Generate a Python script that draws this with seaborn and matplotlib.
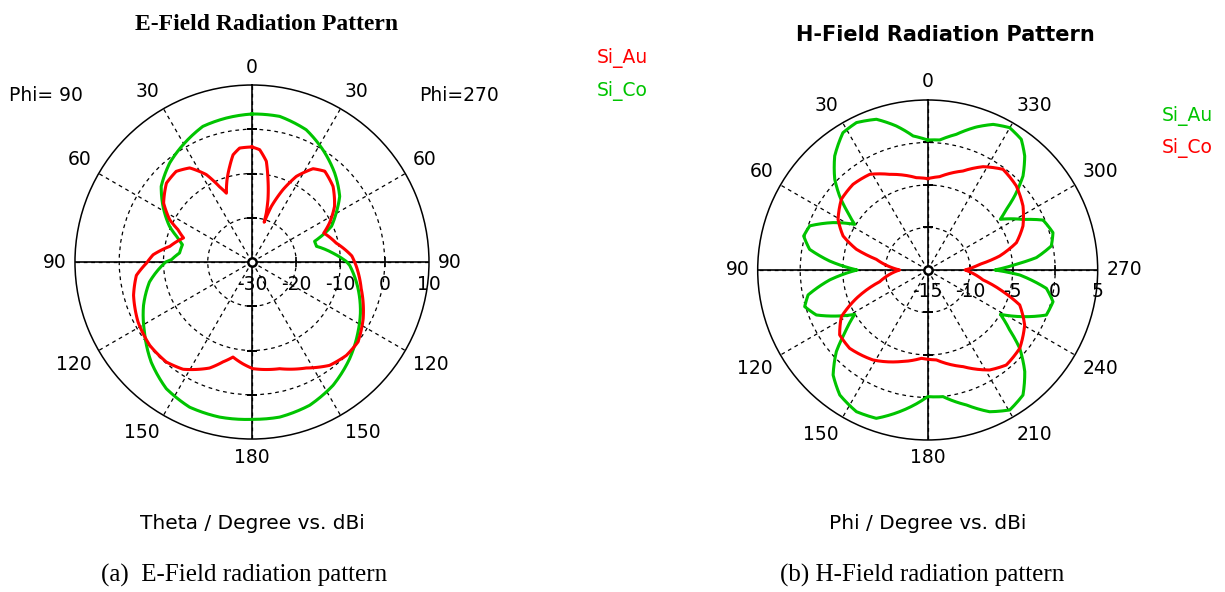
import numpy as np
import matplotlib
matplotlib.use("Agg")
import matplotlib.pyplot as plt
from matplotlib.transforms import offset_copy
import seaborn as sns

# ---- E-plane cut: theta in degrees, measured clockwise from boresight
# (right half = Phi=270 cut, left half = Phi=90 cut, stored as 180..360)
e_au_theta = [0, 3.9, 8.1, 11, 14.4, 16.3, 17, 19.2, 23.2, 27.4, 33.2, 38.7, 47,
              56, 63.3, 68, 77.3, 86.5, 92.4, 103.7, 117, 127, 134.7, 143.1,
              152.9, 165.5, 179.5, 185.1, 191.3, 196.2, 201.8, 212.7, 220.6,
              230.8, 242.2, 254.3, 263.4, 269.5, 274.2, 280.8, 289.4, 293.6,
              297.2, 303.7, 312.7, 320.1, 326.5, 332.4, 336.7, 339.6, 343.1,
              346.9, 350, 353.8, 360]
e_au_dbi = [-4.0, -4.55, -7.0, -11.05, -15.5, -18.5, -20.6, -16.7, -12.2, -8.2,
            -4.8, -3.7, -4.95, -7.5, -10.4, -12.5, -10.5, -7.4, -6.4, -4.6, -1.8,
            0.0, 0.0, -0.8, -3.1, -5.1, -5.9, -6.9, -8.1, -6.5, -4.2, -1.2,
            -0.25, -0.2, -0.9, -2.2, -3.7, -6.2, -7.6, -11.1, -13.6, -11.75,
            -9.1, -6.0, -3.7, -3.3, -4.5, -7.7, -11.5, -13.4, -10.6,
            -7.8, -5.4, -4.1, -4.0]

e_co_theta = [0, 10.8, 22.3, 32.3, 42.9, 53.2, 59.8, 65.8, 69, 71.7, 76.3, 83.7,
              89.6, 92, 104, 114.8, 123.4, 134.7, 146.7, 158.1, 169.9, 179.6,
              191.8, 203.3, 214.1, 225.2, 236.9, 248.2, 259, 270, 271.7, 277.1,
              284, 288, 293.4, 302, 309.8, 320.3, 330.5, 340.1, 349.9, 360]
e_co_dbi = [3.45, 3.5, 2.3, 0.0, -2.55, -5.25, -8.0, -10.3, -12.8, -15.1, -15.0,
            -11.6, -8.7, -7.9, -5.3, -3.0, -1.3, 1.05, 3.35, 4.9, 5.6, 5.55,
            5.8, 5.7, 4.55, 2.1, -1.0, -3.6, -6.4, -10.5, -11.8, -13.5,
            -13.8, -12.4, -9.7, -6.3, -3.3, -0.9, 0.9, 2.6, 3.05, 3.45]

# ---- H-plane cut: phi in degrees, counter-clockwise from the top
h_au_phi = [0, 6.2, 12.3, 18.8, 25.8, 31.7, 39.2, 45.7, 50, 54.3, 58, 63.4, 69.5,
            74.7, 80.1, 84.8, 90, 95.8, 101.8, 106.6, 112, 121.3, 127.3, 131.8,
            138, 144.9, 153.3, 160.9, 168.8, 180, 186.9, 196, 203.6, 210.4,
            217.3, 223.7, 229.6, 233.8, 238.6, 243.9, 249.2, 255.8, 261.2,
            266.9, 270, 273.7, 276.5, 281, 286.6, 293.4, 297.9, 304.9, 307.6,
            310.4, 314.6, 319.6, 324.4, 330.1, 335.8, 341.2, 348.1, 354.7, 360]
h_au_dbi = [0.29, 0.86, 2.34, 3.73, 4.26, 3.98, 2.31, 0.28, -1.47, -3.45, -4.87,
            -2.55, -0.18, 0.13, -0.9, -3.42, -6.7, -3.41, -0.62, 0.1, -0.87,
            -4.95, -2.72, -0.58, 1.63, 2.98, 3.66, 3.47, 1.99, -0.1, 0.01, 1.52,
            3.2, 4.09, 3.5, 1.53, -0.78, -3.05, -4.98, -2.51, -0.07, 0.21,
            -0.87, -4.16, -7.1, -4.55, -2.13, -0.18, 0.38, -0.21, -2.3, -4.58,
            -3.31, -1.56, 0.75, 2.61, 3.91, 4.32, 3.78, 2.77, 1.31, 0.36, 0.29]

h_co_phi = [0, 7, 21.7, 31.2, 41.1, 50.7, 60.5, 68.1, 73.8, 78.3, 90, 103.7,
            111.7, 118.4, 126.4, 135.1, 148.7, 163, 175.9, 180, 185.5, 200.1,
            211.8, 219.6, 229.6, 240.4, 249.2, 254, 259.8, 270, 276.2, 281,
            287.1, 294.8, 303.9, 313.5, 323.2, 331.8, 340.4, 352.7, 360]
h_co_dbi = [-4.25, -4.06, -2.89, -1.84, -1.63, -1.87, -2.88, -4.27, -6.26, -8.83,
            -11.7, -9.19, -5.97, -3.45, -2.13, -1.99, -2.61, -3.72, -4.58, -4.5,
            -4.37, -2.89, -1.16, -0.49, -0.78, -1.88, -3.42, -5.78, -8.38, -10.6,
            -8.84, -6.37, -4.08, -2.65, -1.49, -0.63, -0.21, -1.21, -2.64,
            -3.93, -4.25]

# ---- axes annotation
tick_angles = list(range(0, 360, 30))
e_tick_labels = ["0", "30", "60", "90", "120", "150", "180",
                 "150", "120", "90", "60", "30"]
h_tick_labels = [str(a) for a in tick_angles]
e_rlim = (-30, 10)
e_rings = [-20, -10, 0]
e_rlabels = [-30, -20, -10, 0, 10]
h_rlim = (-15, 5)
h_rings = [-10, -5, 0]
h_rlabels = [-15, -10, -5, 0, 5]

RED = "#ff0000"
GREEN = "#00c400"
SANS = "DejaVu Sans"
LABEL_SIZE = 13.5

plt.rcParams["font.family"] = SANS

fig = plt.figure(figsize=(12.25, 5.92), dpi=100)
ax_e = fig.add_axes([0.0612, 0.2584, 0.289, 0.598], projection="polar")
ax_h = fig.add_axes([0.6185, 0.2568, 0.2776, 0.5743], projection="polar")


def angle_labels(ax, direction, rmax, labels, gap=8.5):
    """Place angle labels outside the rim, anchored by their nearest corner."""
    for ang, lab in zip(tick_angles, labels):
        a = np.deg2rad(ang)
        ux = np.sin(a) * (-1 if direction == 1 else 1)
        uy = np.cos(a)
        ux = 0.0 if abs(ux) < 1e-6 else ux
        uy = 0.0 if abs(uy) < 1e-6 else uy
        ha = "center" if ux == 0 else ("left" if ux > 0 else "right")
        va = "center" if uy == 0 else ("bottom" if uy > 0 else "top")
        trans = offset_copy(ax.transData, fig=fig, x=gap * ux, y=gap * uy,
                            units="dots")
        ax.text(a, rmax, lab, transform=trans, ha=ha, va=va,
                fontsize=LABEL_SIZE, clip_on=False)


def style_polar(ax, direction, rlim, rings, rlabels, labels, right_theta):
    ax.set_theta_zero_location("N")
    ax.set_theta_direction(direction)
    ax.set_ylim(*rlim)
    ax.set_rgrids(rings, labels=[""] * len(rings))
    ax.set_thetagrids(tick_angles, [""] * len(tick_angles))
    ax.grid(True, color="black", linewidth=0.9, linestyle=(0, (3, 3)))
    ax.set_axisbelow(True)
    ax.spines["polar"].set_linewidth(1.1)
    ax.tick_params(axis="x", direction="in", length=5, width=1, colors="black")
    ax.tick_params(axis="y", length=0)
    angle_labels(ax, direction, rlim[1], labels)
    # solid principal axes
    for th in (0, 90, 180, 270):
        ax.plot([np.deg2rad(th)] * 2, rlim, color="black", lw=1.2, zorder=1.5)
    # small ticks where rings cross the principal axes
    for r in rings:
        ax.plot([0, np.pi], [r, r], ls="none", marker="_", ms=7, mew=1.2,
                color="black", zorder=1.6)
        ax.plot([right_theta], [r], ls="none", marker="|", ms=7, mew=1.2,
                color="black", zorder=1.6)
    # centre marker
    ax.plot([0], [rlim[0]], marker="o", ms=6, mfc="white", mec="black",
            mew=1.8, zorder=5)
    # radial scale labels just below the right-hand axis
    trans = offset_copy(ax.transData, fig=fig, x=0, y=-22, units="dots")
    for r in rlabels:
        ax.text(right_theta, r, str(r), transform=trans, ha="center",
                va="center", fontsize=LABEL_SIZE, zorder=6)


style_polar(ax_e, -1, e_rlim, e_rings, e_rlabels, e_tick_labels, np.pi / 2)
style_polar(ax_h, 1, h_rlim, h_rings, h_rlabels, h_tick_labels, 3 * np.pi / 2)


def trace(ax, ang, val, color, z):
    n_before = len(ax.lines)
    sns.lineplot(x=np.deg2rad(ang), y=val, ax=ax, sort=False, estimator=None,
                 color=color, linewidth=2.2, zorder=z)
    # follow the polar grid between samples instead of straight chords
    for line in ax.lines[n_before:]:
        line.get_path()._interpolation_steps = 16
        line.set_solid_joinstyle("round")


trace(ax_e, e_co_theta, e_co_dbi, GREEN, 3)
trace(ax_e, e_au_theta, e_au_dbi, RED, 4)
trace(ax_h, h_au_phi, h_au_dbi, GREEN, 3)
trace(ax_h, h_co_phi, h_co_dbi, RED, 4)

for ax, lim in ((ax_e, e_rlim), (ax_h, h_rlim)):
    ax.set_xlabel("")
    ax.set_ylabel("")
    ax.set_ylim(*lim)

# titles
fig.text(0.218, 0.958, "E-Field Radiation Pattern", ha="center", va="center",
         fontsize=17, fontweight="bold", family="Liberation Serif")
fig.text(0.772, 0.941, "H-Field Radiation Pattern", ha="center", va="center",
         fontsize=15, fontweight="bold", family=SANS)

# cut annotations
fig.text(0.0376, 0.838, "Phi= 90", ha="center", va="center", fontsize=LABEL_SIZE)
fig.text(0.375, 0.838, "Phi=270", ha="center", va="center", fontsize=LABEL_SIZE)

# legends (coloured series names)
fig.text(0.487, 0.902, "Si_Au", color=RED, ha="left", va="center", fontsize=LABEL_SIZE)
fig.text(0.487, 0.846, "Si_Co", color=GREEN, ha="left", va="center", fontsize=LABEL_SIZE)
fig.text(0.9486, 0.804, "Si_Au", color=GREEN, ha="left", va="center", fontsize=LABEL_SIZE)
fig.text(0.9486, 0.750, "Si_Co", color=RED, ha="left", va="center", fontsize=LABEL_SIZE)

# axis descriptions
fig.text(0.2057, 0.115, "Theta / Degree vs. dBi", ha="center", va="center",
         fontsize=14.5)
fig.text(0.7576, 0.115, "Phi / Degree vs. dBi", ha="center", va="center",
         fontsize=14.5)

# sub-figure captions
fig.text(0.199, 0.028, "(a)  E-Field radiation pattern", ha="center",
         va="center", fontsize=18, family="Liberation Serif")
fig.text(0.753, 0.028, "(b) H-Field radiation pattern", ha="center",
         va="center", fontsize=18, family="Liberation Serif")

fig.savefig("out.png", dpi=100, facecolor="white")
